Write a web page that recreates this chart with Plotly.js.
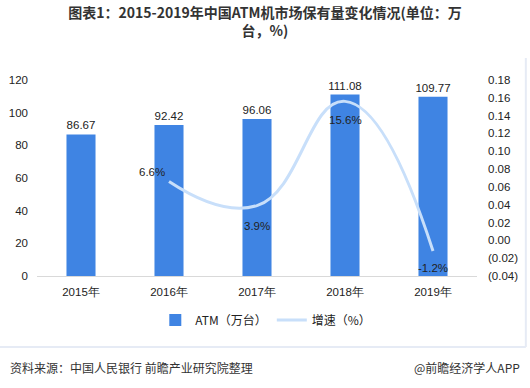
<!DOCTYPE html>
<html><head><meta charset="utf-8">
<script src="https://cdn.plot.ly/plotly-3.0.1.min.js"></script>
<style>html,body{margin:0;padding:0;background:#fff}#chart{width:530px;height:388px}</style>
</head><body><div id="chart"></div>
<script>
const years = ['2015年','2016年','2017年','2018年','2019年'];
const atm = [86.67, 92.42, 96.06, 111.08, 109.77];
const growthYears = ['2016年','2017年','2018年','2019年'];
const growth = [0.066, 0.039, 0.156, -0.012];
const growthLabels = ['6.6%','3.9%','15.6%','-1.2%'];
const rightTickVals = [-0.04,-0.02,0,0.02,0.04,0.06,0.08,0.10,0.12,0.14,0.16,0.18];
const rightTickText = ['(0.04)','(0.02)','0.00','0.02','0.04','0.06','0.08','0.10','0.12','0.14','0.16','0.18'];

const tickFont = {family:'Liberation Sans, Arial, sans-serif', size:11.5, color:'#222'};
const labelFont = {family:'Liberation Sans, Arial, sans-serif', size:11.5, color:'#222'};
const traces = [
  {type:'bar', x:years, y:atm, name:'ATM（万台）', marker:{color:'#3f84e3'}, width:0.33,
   text:atm.map(v=>v.toFixed(2)), textposition:'outside', cliponaxis:false, constraintext:'none',
   textfont:labelFont},
  {type:'scatter', mode:'lines', x:growthYears, y:growth, yaxis:'y2', name:'增速（%）',
   line:{color:'#c8dffa', width:3, shape:'spline', smoothing:1.3}, cliponaxis:false}
];
const lblShift = [[-17,10],[0,-20],[0,-19],[0,-17]];
const lineAnns = growth.map((v,i)=>({xref:'x', yref:'y2', x:growthYears[i], y:v, text:growthLabels[i],
  showarrow:false, xshift:lblShift[i][0], yshift:lblShift[i][1], font:labelFont}));
const layout = {
  width:530, height:388,
  margin:{l:37, r:53, t:80, b:112},
  paper_bgcolor:'#fff', plot_bgcolor:'#fff',
  title:{text:'图表1：2015-2019年中国ATM机市场保有量变化情况(单位：万<br>台，%)', x:0.5, xref:'container', y:0.953, yref:'container', yanchor:'top',
    font:{family:'Noto Sans CJK SC, sans-serif', size:14, color:'#333', weight:'bold'}},
  xaxis:{type:'category', showline:true, linecolor:'#d9d9d9', linewidth:1, ticks:'', tickfont:tickFont, showgrid:false, zeroline:false, ticklabelstandoff:5},
  yaxis:{range:[0,120], dtick:20, showgrid:false, zeroline:false, showline:false, tickfont:tickFont, ticks:'', ticklabelstandoff:8},
  yaxis2:{overlaying:'y', side:'right', range:[-0.04,0.18], tickvals:rightTickVals, ticktext:rightTickText, showgrid:false, zeroline:false, tickfont:tickFont, ticks:'', ticklabelstandoff:10},
  showlegend:true,
  legend:{orientation:'h', x:0.52, xanchor:'center', y:-0.224, yanchor:'middle', font:{family:'Noto Sans CJK SC, sans-serif', size:12, color:'#222'}},
  shapes:[
    {type:'line', xref:'paper', yref:'paper', x0:-0.09, x1:1.111, y0:-0.362, y1:-0.362, line:{color:'#e6ebf5', width:2}},
    {type:'line', xref:'paper', yref:'paper', x0:1.111, x1:1.111, y0:-0.362, y1:1.112, line:{color:'#e6ebf5', width:2}}
  ],
  annotations:lineAnns.concat([
    {xref:'paper', yref:'paper', x:-0.066, y:-0.469, xanchor:'left', yanchor:'middle', showarrow:false,
     text:'资料来源：中国人民银行 前瞻产业研究院整理', font:{family:'Noto Sans CJK SC, sans-serif', size:12, color:'#333'}},
    {xref:'paper', yref:'paper', x:1.102, y:-0.469, xanchor:'right', yanchor:'middle', showarrow:false,
     text:'@前瞻经济学人APP', font:{family:'Noto Sans CJK SC, sans-serif', size:12, color:'#333'}}
  ])
};
Plotly.newPlot('chart', traces, layout, {displayModeBar:false, staticPlot:true});
</script></body></html>
